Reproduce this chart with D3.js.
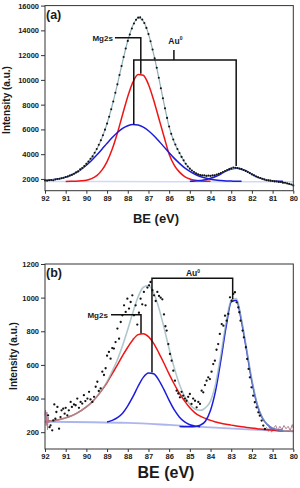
<!DOCTYPE html>
<html>
<head>
<meta charset="utf-8">
<script src="https://cdn.jsdelivr.net/npm/d3@7"></script>
<style>
  body { margin: 0; background: #fff; }
  svg text { font-family: "Liberation Sans", Arial, sans-serif; font-weight: bold; fill: #1a1a1a; }
</style>
</head>
<body>
<div id="chart"></div>
<script>
// shared x axis (binding energy, eV)
var xTicks = [92, 91, 90, 89, 88, 87, 86, 85, 84, 83, 82, 81, 80];
var curveBE = [92, 91.75, 91.5, 91.25, 91, 90.75, 90.5, 90.25, 90, 89.75, 89.5, 89.25, 89,
  88.75, 88.5, 88.25, 88, 87.75, 87.5, 87.25, 87, 86.75, 86.5, 86.25, 86, 85.75, 85.5, 85.25, 85,
  84.75, 84.5, 84.25, 84, 83.75, 83.5, 83.25, 83, 82.75, 82.5, 82.25, 82, 81.75, 81.5, 81.25, 81,
  80.75, 80.5, 80.25, 80];

// ---- panel (a) ----
var aTicks = [2000, 4000, 6000, 8000, 10000, 12000, 14000, 16000];
var aRed = [null, null, null, null, 1800, 1805, 1815, 1845, 1900, 2030, 2270, 2710, 3400,
  4410, 5710, 7200, 8660, 9820, 10440, 10370, 9630, 8380, 6900, 5430, 4000, 3100, 2550, 2190, 1990,
  1885, 1835, 1815, 1805, null, null, null, null, null, null, null, null, null, null, null, null,
  null, null, null, null];
var aBlue1 = [1900, 1930, 1980, 2040, 2145, 2300, 2510, 2780, 3110, 3490, 3930, 4400, 4880,
  5340, 5750, 6080, 6300, 6400, 6360, 6180, 5890, 5510, 5070, 4590, 4110, 3660, 3260, 2900, 2610,
  2380, 2200, 2070, 1980, 1910, 1870, 1840, 1825, 1815, 1810, null, null, null, null, null, null,
  null, null, null, null];
var aBlue2 = [null, null, null, null, null, null, null, null, null, null, null, null, null,
  null, null, null, null, null, null, null, null, null, null, null, null, null, null, null, 1810,
  1830, 1870, 1930, 2050, 2200, 2400, 2630, 2800, 2870, 2790, 2620, 2380, 2170, 2010, 1900, 1850,
  1820, 1805, null, null];
var aEnvelope = [1900, 1920, 1970, 2040, 2145, 2305, 2525, 2825, 3210, 3720, 4400, 5310, 6480,
  7950, 9660, 11480, 13160, 14420, 15000, 14750, 13720, 12090, 10170, 8100, 6200, 4950, 4100, 3350, 2830,
  2500, 2310, 2220, 2240, 2310, 2470, 2670, 2825, 2885, 2800, 2620, 2380, 2170, 2010, 1900, 1850,
  1780, 1700, 1620, 1500];
var aBaseBE = [92, 86, 80];
var aBase = [1790, 1780, 1770];
var aDots = [[92.0,1880],[91.9,1850],[91.8,1900],[91.7,1920],[91.6,1890],[91.5,1960],[91.4,1990],
  [91.3,2010],[91.2,2060],[91.1,2090],[91.0,2160],[90.9,2200],[90.8,2280],[90.7,2330],[90.6,2420],
  [90.5,2530],[90.4,2610],[90.3,2770],[90.2,2880],[90.1,3050],[90.0,3220],[89.9,3400],[89.8,3630],
  [89.7,3820],[89.6,4110],[89.5,4420],[89.4,4760],[89.3,5120],[89.2,5530],[89.1,5980],[89.0,6470],
  [88.9,7020],[88.8,7630],[88.7,8260],[88.6,8960],[88.5,9640],[88.4,10400],[88.3,11120],[88.2,11850],
  [88.1,12530],[88.0,13150],[87.9,13660],[87.8,14150],[87.7,14560],[87.6,14850],[87.5,15030],
  [87.4,15050],[87.3,14880],[87.2,14600],[87.1,14200],[87.0,13700],[86.9,13120],[86.8,12450],
  [86.7,11740],[86.6,10980],[86.5,10170],[86.4,9330],[86.3,8520],[86.2,7700],[86.1,6930],[86.0,6240],
  [85.9,5640],[85.8,5180],[85.7,4780],[85.6,4420],[85.5,4100],[85.4,3780],[85.3,3500],[85.2,3230],
  [85.1,3000],[85.0,2830],[84.9,2680],[84.8,2560],[84.7,2450],[84.6,2380],[84.5,2320],[84.4,2290],
  [84.3,2300],[84.2,2250],[84.1,2280],[84.0,2250],[83.9,2290],[83.8,2300],[83.7,2350],[83.6,2410],
  [83.5,2480],[83.4,2560],[83.3,2640],[83.2,2720],[83.1,2790],[83.0,2850],[82.9,2920],[82.8,2900],
  [82.7,2880],[82.6,2840],[82.5,2790],[82.4,2720],[82.3,2650],[82.2,2560],[82.1,2470],[82.0,2370],
  [81.9,2290],[81.8,2200],[81.7,2130],[81.6,2070],[81.5,2010],[81.4,1960],[81.3,1900],[81.2,1880],
  [81.1,1860],[81.0,1830],[80.9,1800],[80.8,1790],[80.7,1760],[80.6,1750],[80.5,1700],[80.4,1690],
  [80.3,1640],[80.2,1600],[80.1,1550],[80.0,1480]];

// ---- panel (b) ----
var bTicks = [200, 400, 600, 800, 1000, 1200];
var bRed = [262, 266, 270, 277, 285, 296, 310, 328, 350, 377, 410, 450, 495,
  548, 600, 655, 705, 750, 780, 786, 768, 728, 672, 610, 545, 485, 430, 385, 345,
  315, 295, 282, 270, 261, 253, 247, 242, 237, 232, 228, 225, 221, 218, 215, 212,
  209, 207, 206, 205];
var bBlue1 = [null, null, null, null, null, null, null, null, null, null, null, null, 261,
  270, 286, 313, 357, 411, 473, 526, 552, 548, 510, 453, 389, 332, 289, 261, 244,
  236, 232, null, null, null, null, null, null, null, null, null, null, null, null,
  null, null, null, null];
var bBlue2 = [null, null, null, null, null, null, null, null, null, null, null, null, null,
  null, null, null, null, null, null, null, null, null, null, null, null, null, 234, 233, 233,
  234, 242, 265, 330, 450, 628, 824, 975, 985, 856, 680, 500, 365, 285, 245, 222,
  214, 210, null, null];
var bEnvelope = [262, 266, 270, 277, 285, 296, 310, 328, 350, 377, 410, 452, 501,
  563, 631, 715, 811, 913, 1005, 1062, 1072, 1029, 939, 823, 696, 581, 484, 413, 365,
  338, 330, 345, 385, 490, 660, 850, 985, 995, 869, 690, 512, 370, 288, 245, 223,
  214, 209, 207, 205];
var bBaseBE = [92, 88, 86, 84, 82, 80];
var bBase = [262, 255, 243, 228, 215, 205];
var bNoiseLeft = [[92, 300], [91.97, 330], [91.94, 240], [91.91, 320], [91.88, 215], [91.85, 290],
  [91.82, 255], [91.78, 270], [91.75, 262]];
var bNoiseRight = [[81.3, 230], [81.2, 205], [81.15, 235], [81.05, 200], [80.95, 225], [80.85, 240],
  [80.75, 210], [80.65, 235], [80.55, 215], [80.45, 240], [80.35, 220], [80.25, 235], [80.15, 210],
  [80.05, 245], [80.0, 225]];
var bDots = [[91.85,300],[91.78,230],[91.73,241],[91.65,211],[91.6,270],[91.55,365],[91.5,280],
  [91.45,320],[91.4,350],[91.32,221],[91.25,290],[91.2,330],[91.12,340],[91.05,310],[91.0,345],
  [90.92,300],[90.85,330],[90.76,380],[90.7,350],[90.6,365],[90.52,360],[90.44,400],[90.36,345],
  [90.28,380],[90.2,370],[90.12,420],[90.05,385],[89.95,400],[89.87,440],[89.8,395],[89.71,380],
  [89.63,410],[89.55,470],[89.47,500],[89.4,445],[89.31,460],[89.23,560],[89.15,540],[89.07,580],
  [89.0,655],[88.91,677],[88.83,637],[88.75,700],[88.67,697],[88.59,736],[88.5,816],[88.42,756],
  [88.34,855],[88.26,895],[88.18,954],[88.1,915],[88.02,994],[87.94,935],[87.86,974],[87.78,1014],
  [87.7,895],[87.62,954],[87.54,840],[87.46,910],[87.38,994],[87.3,960],[87.22,1034],[87.14,954],
  [87.05,1060],[86.97,1073],[86.9,1093],[86.81,1044],[86.73,1014],[86.65,980],[86.57,1034],
  [86.49,1010],[86.41,1000],[86.33,990],[86.25,900],[86.18,830],[86.12,804],[86.04,724],[85.96,665],
  [85.88,625],[85.8,566],[85.72,506],[85.64,447],[85.56,430],[85.48,407],[85.4,440],[85.32,417],
  [85.24,400],[85.16,387],[85.08,410],[85.0,427],[84.92,368],[84.84,400],[84.75,387],[84.67,348],
  [84.59,380],[84.51,368],[84.43,447],[84.35,437],[84.27,480],[84.19,506],[84.11,526],[84.03,516],
  [83.95,560],[83.87,605],[83.79,625],[83.71,690],[83.63,724],[83.55,784],[83.46,843],[83.38,833],
  [83.3,893],[83.22,863],[83.14,903],[83.06,1002],[82.98,982],[82.9,1022],[82.82,1032],[82.74,972],
  [82.66,942],[82.61,913],[82.55,863],[82.45,804],[82.39,764],[82.29,705],[82.23,635],[82.16,576],
  [82.1,526],[82.02,467],[81.94,417],[81.86,378],[81.78,348],[81.69,318],[81.62,298],[81.53,269],
  [81.45,239],[81.37,219]];

var svg = d3.select("#chart").append("svg")
  .attr("width", 300)
  .attr("height", 488);

function zip(xs, ys) {
  return xs.map(function(d, i) { return [d, ys[i]]; });
}

function drawPanel(p) {
  var x = d3.scaleLinear().domain([92, 80]).range([45, 293.3]);
  var y = d3.scaleLinear().domain(p.yDomain).range([p.bottom, p.top]);
  var g = svg.append("g");

  var line = d3.line()
    .defined(function(d) { return d[1] != null; })
    .x(function(d) { return x(d[0]); })
    .y(function(d) { return y(d[1]); })
    .curve(d3.curveMonotoneX);
  var rough = d3.line()
    .x(function(d) { return x(d[0]); })
    .y(function(d) { return y(d[1]); });

  // baseline
  g.append("path").datum(zip(p.baseBE, p.base))
    .attr("d", line).attr("fill", "none")
    .attr("stroke", p.baseColor).attr("stroke-width", p.baseWidth).attr("stroke-opacity", 0.8);

  if (p.noise) {
    p.noise.forEach(function(n) {
      g.append("path").datum(n).attr("d", rough).attr("fill", "none")
        .attr("stroke", "#b07f95").attr("stroke-width", 1);
    });
  }

  g.append("path").datum(zip(curveBE, p.red))
    .attr("d", line).attr("fill", "none").attr("stroke", "#f01515").attr("stroke-width", 1.5);
  g.append("path").datum(zip(curveBE, p.blue1))
    .attr("d", line).attr("fill", "none").attr("stroke", "#1c1cdc").attr("stroke-width", 1.5);
  g.append("path").datum(zip(curveBE, p.blue2))
    .attr("d", line).attr("fill", "none").attr("stroke", "#1c1cdc").attr("stroke-width", 1.5);

  // fitted envelope
  g.append("path").datum(zip(curveBE, p.envelope))
    .attr("d", line).attr("fill", "none")
    .attr("stroke", "#8fb0b6").attr("stroke-width", p.envWidth).attr("stroke-opacity", p.envOpacity);

  // measured points
  g.selectAll(".dot").data(p.dots).enter().append("circle")
    .attr("cx", function(d) { return x(d[0]); })
    .attr("cy", function(d) { return y(d[1]); })
    .attr("r", p.dotR)
    .attr("fill", "#111");

  // annotation brackets
  p.brackets.forEach(function(b) {
    g.append("path")
      .datum(b)
      .attr("d", rough)
      .attr("fill", "none")
      .attr("stroke", "#111")
      .attr("stroke-width", 1.5);
  });

  g.append("text")
    .attr("x", x(p.mgLabel[0]))
    .attr("y", y(p.mgLabel[1]))
    .attr("dy", "0.35em")
    .attr("text-anchor", "end")
    .style("font-size", "8px")
    .text("Mg2s");

  var au = g.append("text")
    .attr("x", x(p.auLabel[0]))
    .attr("y", y(p.auLabel[1]))
    .attr("text-anchor", "middle")
    .style("font-size", "8.5px");
  au.append("tspan").text("Au");
  au.append("tspan").attr("dy", "-3.5").style("font-size", "5px").text("0");

  // axes
  var xAxis = g.append("g")
    .attr("transform", "translate(0," + p.bottom + ")")
    .call(d3.axisBottom(x).tickValues(xTicks).tickSize(3).tickPadding(2).tickFormat(d3.format("d")));
  var yAxis = g.append("g")
    .attr("transform", "translate(45,0)")
    .call(d3.axisLeft(y).tickValues(p.yTicks).tickSize(4).tickPadding(2).tickFormat(d3.format("d")));
  [xAxis, yAxis].forEach(function(a) {
    a.select(".domain").remove();
    a.selectAll(".tick line").attr("stroke", "#333").attr("stroke-width", 1);
    a.selectAll(".tick text").style("font-size", "7.5px").attr("fill", "#1a1a1a");
  });

  // frame
  g.append("rect")
    .attr("x", 45).attr("y", p.top)
    .attr("width", 293.3 - 45).attr("height", p.bottom - p.top)
    .attr("fill", "none").attr("stroke", "#333").attr("stroke-width", 1);

  g.append("text")
    .attr("x", 46).attr("y", p.top + 13)
    .style("font-size", "12.5px")
    .text(p.tag);

  g.append("text")
    .attr("transform", "translate(" + p.yTitleX + "," + p.yTitleY + ") rotate(-90)")
    .attr("text-anchor", "middle")
    .style("font-size", "10px")
    .text("Intensity (a.u.)");

  g.append("text")
    .attr("x", p.xTitle[0]).attr("y", p.xTitle[1])
    .attr("text-anchor", "middle")
    .style("font-size", p.xTitleSize)
    .text("BE (eV)");
}

drawPanel({
  tag: "(a)", yDomain: [1050, 16000], top: 5.6, bottom: 190.7, yTicks: aTicks,
  red: aRed, blue1: aBlue1, blue2: aBlue2, envelope: aEnvelope, envOpacity: 1, envWidth: 1.2,
  baseBE: aBaseBE, base: aBase, baseColor: "#c3d2f2", baseWidth: 1.5,
  dots: aDots, dotR: 1.05,
  brackets: [
    [[88.62, 13400], [87.37, 13400], [87.37, 10500]],
    [[87.71, 6400], [87.71, 11600], [82.76, 11600], [82.76, 3050]],
    [[85.77, 11600], [85.77, 12420]]
  ],
  mgLabel: [88.72, 13400], auLabel: [85.7, 12900],
  yTitleX: 10, yTitleY: 100, xTitle: [156, 222.5], xTitleSize: "13px"
});

drawPanel({
  tag: "(b)", yDomain: [100, 1200], top: 264, bottom: 449, yTicks: bTicks,
  red: bRed, blue1: bBlue1, blue2: bBlue2, envelope: bEnvelope, envOpacity: 0.7, envWidth: 1.6,
  baseBE: bBaseBE, base: bBase, baseColor: "#98a3ea", baseWidth: 1.8,
  noise: [bNoiseLeft, bNoiseRight],
  dots: bDots, dotR: 1.15,
  brackets: [
    [[88.81, 898], [87.36, 898], [87.36, 787]],
    [[86.83, 555], [86.83, 1115], [82.93, 1115], [82.93, 990]]
  ],
  mgLabel: [88.96, 898], auLabel: [84.85, 1128],
  yTitleX: 17, yTitleY: 356, xTitle: [166, 478], xTitleSize: "16px"
});
</script>
</body>
</html>
